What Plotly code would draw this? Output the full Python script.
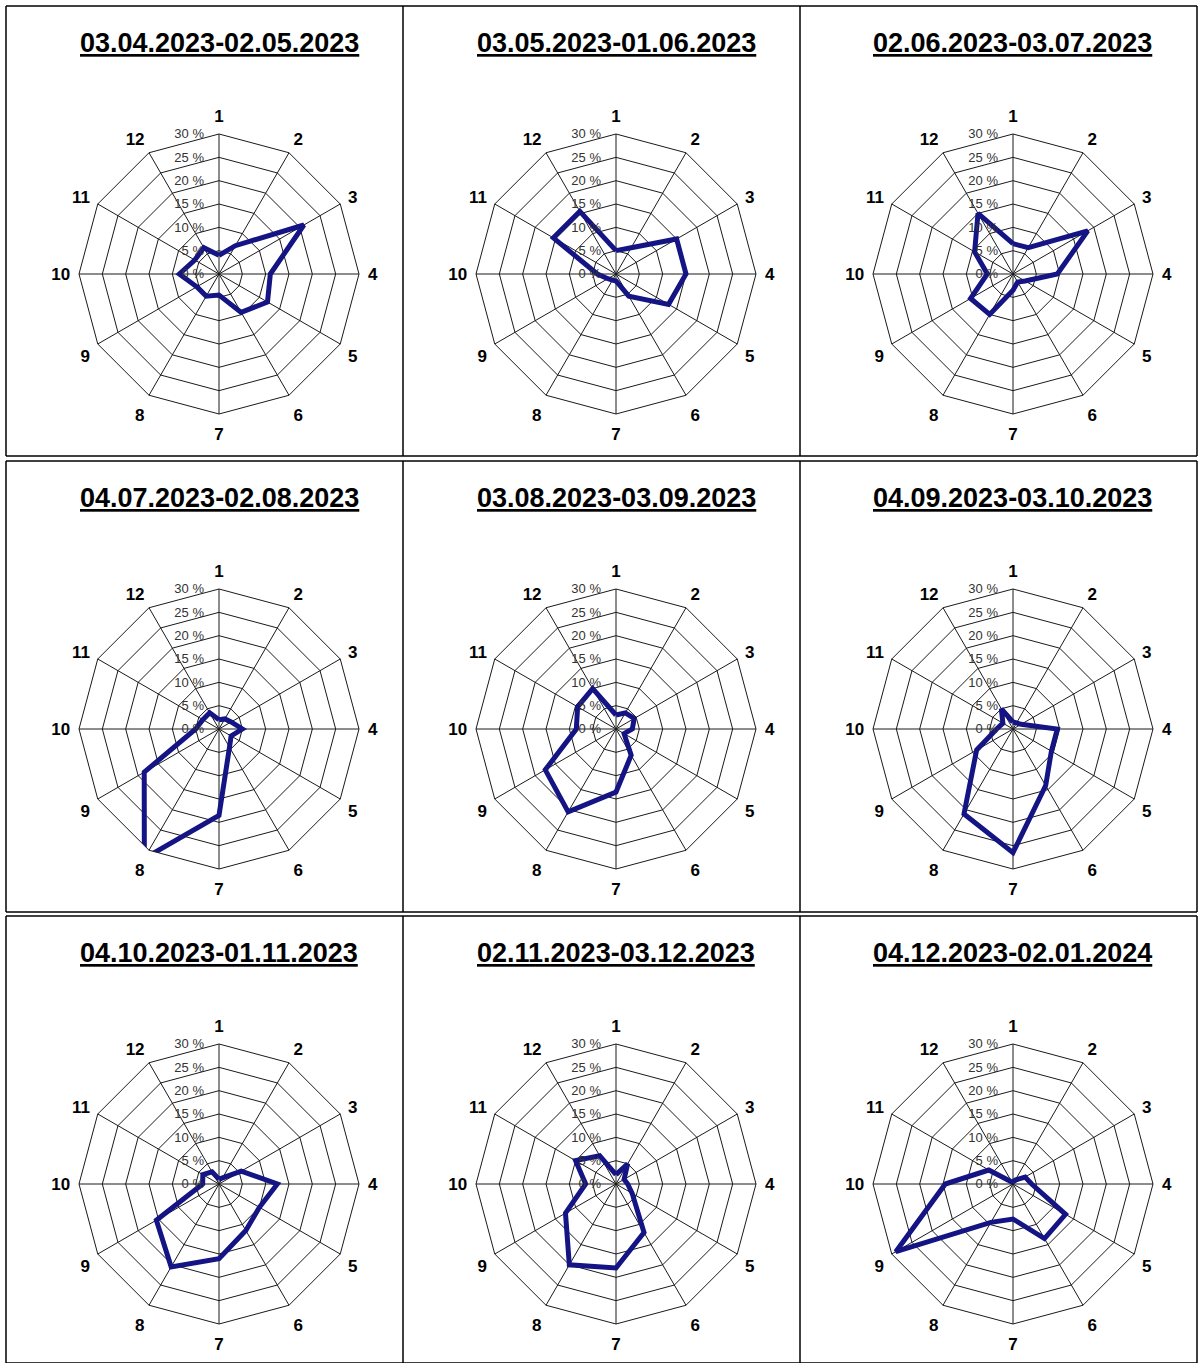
import plotly.graph_objects as go

directions = ["1", "2", "3", "4", "5", "6", "7", "8", "9", "10", "11", "12"]
radial_ticks = [0, 5, 10, 15, 20, 25, 30]
radial_labels = ["0 %", "5 %", "10 %", "15 %", "20 %", "25 %", "30 %"]

titles = [
    "03.04.2023-02.05.2023", "03.05.2023-01.06.2023", "02.06.2023-03.07.2023",
    "04.07.2023-02.08.2023", "03.08.2023-03.09.2023", "04.09.2023-03.10.2023",
    "04.10.2023-01.11.2023", "02.11.2023-03.12.2023", "04.12.2023-02.01.2024",
]

apr_may = [4, 7, 21, 11, 12, 9.5, 4.5, 5.5, 5.5, 8.5, 6, 6.5]
may_jun = [5, 6.5, 15, 15, 13, 5.5, 1.5, 1.5, 2, 4, 15.5, 15.5]
jun_jul = [6.5, 6.5, 18.5, 9.5, 3, 2, 3.5, 10, 10.5, 5.5, 9.5, 15]
jul_aug = [2, 2.5, 3, 5, 3, 4.5, 18.5, 32, 18.5, 5, 4, 4]
aug_sep = [3, 4, 4.5, 3.5, 2, 6.5, 13.5, 20.5, 17.5, 8.5, 9.5, 10]
sep_oct = [1.5, 1.5, 2, 9.5, 9.5, 14, 26.5, 21, 9, 3.5, 2.5, 5]
oct_nov = [1, 1.5, 5.5, 12.5, 10, 11.5, 16, 20.5, 15.5, 3.5, 4, 3]
nov_dec = [2, 5, 2, 2.5, 4, 12, 18, 20, 12.5, 6.5, 10, 7]
dec_jan = [0.5, 1, 3, 4, 13, 13.5, 7.5, 9.5, 29, 14.5, 6, 0.5]

series = [apr_may, may_jun, jun_jul, jul_aug, aug_sep, sep_oct, oct_nov, nov_dec, dec_jan]

W, H = 1198, 1363
col_cx = [219, 616, 1013]
row_cy = [274, 729, 1184]
title_y = [43, 498, 953]
half = 140

fig = go.Figure()
layout_polars = {}
annotations = []
for i, (vals, title) in enumerate(zip(series, titles)):
    r, c = divmod(i, 3)
    cx, cy = col_cx[c], row_cy[r]
    name = "polar" if i == 0 else f"polar{i+1}"
    fig.add_trace(go.Scatterpolar(
        r=vals + vals[:1], theta=directions + directions[:1],
        mode="lines", line=dict(color="#141485", width=5),
        cliponaxis=False, showlegend=False, subplot=name,
    ))
    layout_polars[name] = dict(
        domain=dict(x=[(cx - half) / W, (cx + half) / W],
                    y=[1 - (cy + half) / H, 1 - (cy - half) / H]),
        gridshape="linear",
        bgcolor="white",
        radialaxis=dict(range=[0, 30], tickmode="array", tickvals=radial_ticks,
                        ticktext=radial_labels,
                        angle=90, side="counterclockwise", tickangle=90,
                        showline=False, ticks="outside", ticklen=10,
                        tickcolor="rgba(0,0,0,0)",
                        gridcolor="#1a1a1a", gridwidth=1,
                        tickfont=dict(family="Liberation Sans, Arial", size=13, color="#333333")),
        angularaxis=dict(type="category", categoryarray=directions, direction="clockwise",
                         rotation=90, showline=True, linecolor="#1a1a1a", linewidth=1,
                         gridcolor="#1a1a1a", gridwidth=1,
                         ticks="outside", ticklen=5, tickcolor="rgba(0,0,0,0)",
                         tickmode="array", tickvals=directions,
                         ticktext=[f"<b>{d}</b>" for d in directions],
                         tickfont=dict(family="Liberation Sans, Arial", size=17, color="black")),
    )
    annotations.append(dict(
        x=cx / W, y=1 - title_y[r] / H, xref="paper", yref="paper",
        text=f"<b><u>{title}</u></b>", showarrow=False,
        font=dict(family="Liberation Sans, Arial", size=27, color="black"),
        xanchor="center", yanchor="middle",
    ))

shapes = []
line_style = dict(color="black", width=1.5)
row_tops = [6, 461, 916]
row_bots = [456, 912, 1363]
col_edges = [6, 403, 800, 1197]
for rt, rb in zip(row_tops, row_bots):
    shapes.append(dict(type="line", xref="paper", yref="paper", x0=6 / W, x1=1197 / W,
                       y0=1 - rt / H, y1=1 - rt / H, line=line_style))
    shapes.append(dict(type="line", xref="paper", yref="paper", x0=6 / W, x1=1197 / W,
                       y0=1 - rb / H, y1=1 - rb / H, line=line_style))
    for xe in col_edges:
        shapes.append(dict(type="line", xref="paper", yref="paper", x0=xe / W, x1=xe / W,
                           y0=1 - rt / H, y1=1 - rb / H, line=line_style))

fig.update_layout(
    width=W, height=H, margin=dict(l=0, r=0, t=0, b=0),
    paper_bgcolor="white", plot_bgcolor="white",
    annotations=annotations, shapes=shapes,
    font=dict(family="Liberation Sans, Arial"),
    **layout_polars,
)
fig.write_html("out.html", config={"displayModeBar": False},
               post_script="document.body.style.margin='0';document.body.style.overflow='hidden';")
